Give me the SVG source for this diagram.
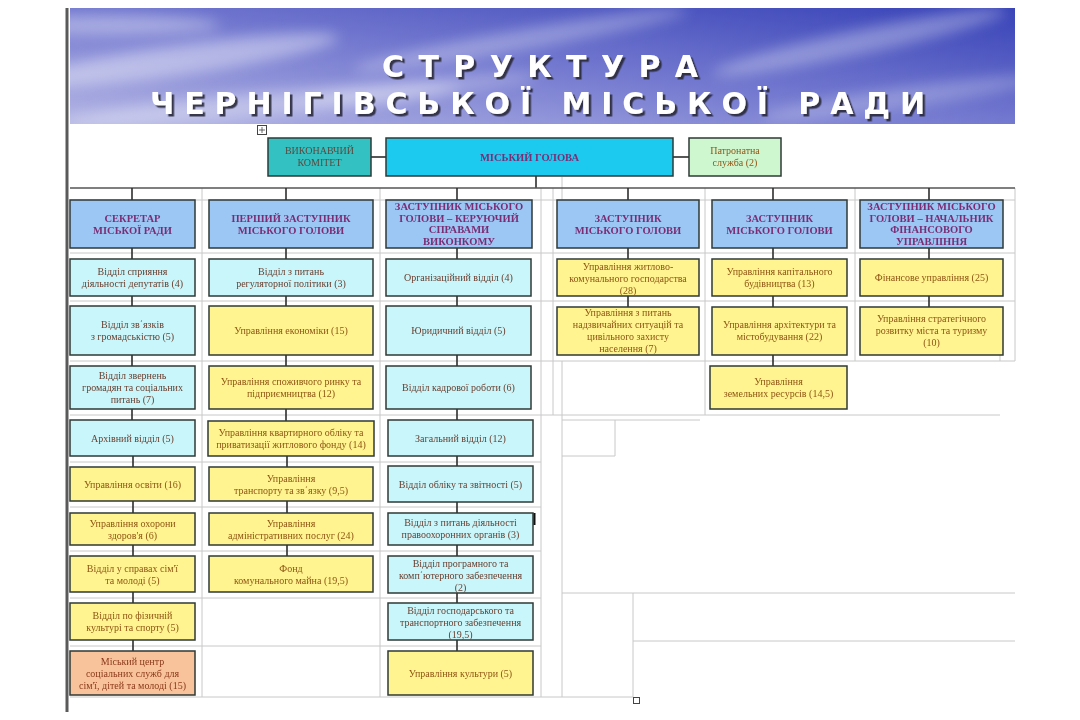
<svg xmlns="http://www.w3.org/2000/svg" width="1080" height="720" viewBox="0 0 1080 720">
<defs>
<linearGradient id="sky" x1="0" y1="1" x2="1" y2="0">
<stop offset="0" stop-color="#b3b5e4"/>
<stop offset="0.45" stop-color="#7a7fd2"/>
<stop offset="1" stop-color="#3742b7"/>
</linearGradient>
<clipPath id="bannerClip"><rect x="70" y="8" width="945" height="116"/></clipPath>
<filter id="blur" x="-20%" y="-50%" width="140%" height="200%"><feGaussianBlur stdDeviation="7"/></filter>
<filter id="shadow" x="-5%" y="-30%" width="110%" height="160%"><feDropShadow dx="2.5" dy="2.5" stdDeviation="0.6" flood-color="#2a2a3a" flood-opacity="0.9"/></filter>
<style>
.grid{stroke:#c8c8c8;stroke-width:1;fill:none}
.conn{stroke:#2e2e2e;stroke-width:1.6;fill:none}
.box{stroke:#2f3a36;stroke-width:1.5}
.head{fill:#9cc6f4}
.cy{fill:#c9f6fa}
.ye{fill:#fff48f}
.or{fill:#f8c29a}
text{font-family:"Liberation Serif","Times New Roman",serif;font-size:10px;text-anchor:middle}
.th{font-weight:bold;fill:#7b2d74;font-size:10.5px}
.tc{fill:#6a4032}
.ty{fill:#8f5514}
.to{fill:#8a3a1a}
.title{font-family:"DejaVu Sans","Liberation Sans",sans-serif;font-weight:bold;font-size:30px;fill:#ffffff;text-anchor:start;filter:url(#shadow)}
</style>
</defs>
<rect width="1080" height="720" fill="#ffffff"/>

<!-- banner -->
<g id="banner">
<rect x="70" y="8" width="945" height="116" fill="url(#sky)"/>
<g clip-path="url(#bannerClip)" filter="url(#blur)" fill="#ffffff">
<ellipse cx="180" cy="60" rx="160" ry="15" opacity="0.4" transform="rotate(-8 180 60)"/>
<ellipse cx="260" cy="105" rx="200" ry="12" opacity="0.35" transform="rotate(-5 260 105)"/>
<ellipse cx="520" cy="40" rx="170" ry="10" opacity="0.3" transform="rotate(-10 520 40)"/>
<ellipse cx="860" cy="42" rx="150" ry="12" opacity="0.32" transform="rotate(-12 860 42)"/>
<ellipse cx="900" cy="98" rx="140" ry="10" opacity="0.25" transform="rotate(-8 900 98)"/>
<ellipse cx="120" cy="25" rx="100" ry="10" opacity="0.35"/>
<ellipse cx="420" cy="88" rx="120" ry="8" opacity="0.25" transform="rotate(-6 420 88)"/>
</g>
<text class="title" x="382" y="77" textLength="316" lengthAdjust="spacing">СТРУКТУРА</text>
<text class="title" x="150" y="114" textLength="775" lengthAdjust="spacing">ЧЕРНІГІВСЬКОЇ МІСЬКОЇ РАДИ</text>
</g>
<line x1="67" y1="8" x2="67" y2="712" stroke="#5a5a5a" stroke-width="3"/>

<!-- table grid lines -->
<g id="grid" class="grid">
<line x1="70" y1="200" x2="1015" y2="200"/>
<line x1="562" y1="177" x2="562" y2="200"/>
<line x1="70" y1="253" x2="1015" y2="253"/>
<line x1="70" y1="301" x2="1015" y2="301"/>
<line x1="70" y1="361" x2="1015" y2="361"/>
<line x1="70" y1="415" x2="1000" y2="415"/>
<line x1="70" y1="462" x2="541" y2="462"/>
<line x1="70" y1="507" x2="541" y2="507"/>
<line x1="70" y1="551" x2="541" y2="551"/>
<line x1="70" y1="598" x2="541" y2="598"/>
<line x1="70" y1="646" x2="541" y2="646"/>
<line x1="70" y1="697" x2="633" y2="697"/>
<line x1="202" y1="188" x2="202" y2="697"/>
<line x1="380" y1="188" x2="380" y2="697"/>
<line x1="541" y1="188" x2="541" y2="697"/>
<line x1="553" y1="188" x2="553" y2="415"/>
<line x1="705" y1="188" x2="705" y2="415"/>
<line x1="855" y1="188" x2="855" y2="361"/>
<line x1="1015" y1="188" x2="1015" y2="361"/>
<line x1="562" y1="361" x2="562" y2="697"/>
<line x1="615" y1="420" x2="615" y2="456"/>
<line x1="562" y1="420" x2="700" y2="420"/>
<line x1="562" y1="456" x2="615" y2="456"/>
<line x1="562" y1="593" x2="1015" y2="593"/>
<line x1="633" y1="593" x2="633" y2="697"/>
<line x1="633" y1="641" x2="1015" y2="641"/>
<line x1="1000" y1="355" x2="1000" y2="361"/>
</g>

<!-- connectors -->
<g id="connectors" class="conn">
<line x1="371" y1="157" x2="386" y2="157"/>
<line x1="673" y1="157" x2="689" y2="157"/>
<line x1="536" y1="176" x2="536" y2="188"/>
<line x1="70" y1="188" x2="1015" y2="188" stroke="#555555"/>
<line x1="132" y1="188" x2="132" y2="200"/>
<line x1="286" y1="188" x2="286" y2="200"/>
<line x1="457" y1="188" x2="457" y2="200"/>
<line x1="628" y1="188" x2="628" y2="200"/>
<line x1="773" y1="188" x2="773" y2="200"/>
<line x1="929" y1="188" x2="929" y2="200"/>
<!-- col 1 -->
<path d="M132 248V259M132 296V306M132 355V366M132 409V420M133 456V467M133 501V513M133 545V556M133 592V603M133 640V651"/>
<!-- col 2 -->
<path d="M286 248V259M286 296V306M286 355V366M286 409V421M287 456V467M287 501V513M287 545V556"/>
<!-- col 3 -->
<path d="M457 248V259M457 296V306M457 355V366M457 409V420M457 456V466M457 502V513M457 545V556M457 593V603M457 640V651"/>
<!-- col 4-6 -->
<path d="M628 248V259M628 296V307M773 248V259M773 296V307M773 355V366M929 248V259M929 296V307"/>
</g>

<!-- top row -->
<g id="vykonkom"><rect class="box" x="268" y="138" width="103" height="38" fill="#33c1c1"/>
<text fill="#5a4a40" x="319.5" y="154">ВИКОНАВЧИЙ</text><text fill="#5a4a40" x="319.5" y="166">КОМІТЕТ</text></g>
<g id="mayor"><rect class="box" x="386" y="138" width="287" height="38" fill="#1ccaf0"/>
<text class="th" x="529.5" y="161">МІСЬКИЙ ГОЛОВА</text></g>
<g id="patronat"><rect class="box" x="689" y="138" width="92" height="38" fill="#cff7cf"/>
<text class="ty" x="735" y="154">Патронатна</text><text class="ty" x="735" y="166">служба (2)</text></g>

<!-- column headers -->
<g id="h1"><rect class="box head" x="70" y="200" width="125" height="48"/>
<text class="th" x="132.5" y="221.5">СЕКРЕТАР</text><text class="th" x="132.5" y="233.5">МІСЬКОЇ РАДИ</text></g>
<g id="h2"><rect class="box head" x="209" y="200" width="164" height="48"/>
<text class="th" x="291" y="221.5">ПЕРШИЙ ЗАСТУПНИК</text><text class="th" x="291" y="233.5">МІСЬКОГО ГОЛОВИ</text></g>
<g id="h3"><rect class="box head" x="386" y="200" width="146" height="48"/>
<text class="th" x="459" y="210">ЗАСТУПНИК МІСЬКОГО</text><text class="th" x="459" y="221.5">ГОЛОВИ – КЕРУЮЧИЙ</text><text class="th" x="459" y="233">СПРАВАМИ</text><text class="th" x="459" y="244.5">ВИКОНКОМУ</text></g>
<g id="h4"><rect class="box head" x="557" y="200" width="142" height="48"/>
<text class="th" x="628" y="221.5">ЗАСТУПНИК</text><text class="th" x="628" y="233.5">МІСЬКОГО ГОЛОВИ</text></g>
<g id="h5"><rect class="box head" x="712" y="200" width="135" height="48"/>
<text class="th" x="779.5" y="221.5">ЗАСТУПНИК</text><text class="th" x="779.5" y="233.5">МІСЬКОГО ГОЛОВИ</text></g>
<g id="h6"><rect class="box head" x="860" y="200" width="143" height="48"/>
<text class="th" x="931.5" y="210">ЗАСТУПНИК МІСЬКОГО</text><text class="th" x="931.5" y="221.5">ГОЛОВИ – НАЧАЛЬНИК</text><text class="th" x="931.5" y="233">ФІНАНСОВОГО</text><text class="th" x="931.5" y="244.5">УПРАВЛІННЯ</text></g>

<!-- column 1 -->
<g id="c1r1"><rect class="box cy" x="70" y="259" width="125" height="37"/>
<text class="tc" x="132.5" y="275">Відділ сприяння</text><text class="tc" x="132.5" y="287">діяльності депутатів (4)</text></g>
<g id="c1r2"><rect class="box cy" x="70" y="306" width="125" height="49"/>
<text class="tc" x="132.5" y="328">Відділ зв΄язків</text><text class="tc" x="132.5" y="340">з громадськістю (5)</text></g>
<g id="c1r3"><rect class="box cy" x="70" y="366" width="125" height="43"/>
<text class="tc" x="132.5" y="379">Відділ звернень</text><text class="tc" x="132.5" y="391">громадян та соціальних</text><text class="tc" x="132.5" y="403">питань (7)</text></g>
<g id="c1r4"><rect class="box cy" x="70" y="420" width="125" height="36"/>
<text class="tc" x="132.5" y="441.5">Архівний відділ (5)</text></g>
<g id="c1r5"><rect class="box ye" x="70" y="467" width="125" height="34"/>
<text class="ty" x="132.5" y="487.5">Управління освіти (16)</text></g>
<g id="c1r6"><rect class="box ye" x="70" y="513" width="125" height="32"/>
<text class="ty" x="132.5" y="526.5">Управління охорони</text><text class="ty" x="132.5" y="538.5">здоров'я (6)</text></g>
<g id="c1r7"><rect class="box ye" x="70" y="556" width="125" height="36"/>
<text class="ty" x="132.5" y="571.5">Відділ у справах сім'ї</text><text class="ty" x="132.5" y="583.5">та молоді (5)</text></g>
<g id="c1r8"><rect class="box ye" x="70" y="603" width="125" height="37"/>
<text class="ty" x="132.5" y="619">Відділ по фізичній</text><text class="ty" x="132.5" y="631">культурі  та спорту (5)</text></g>
<g id="c1r9"><rect class="box or" x="70" y="651" width="125" height="44"/>
<text class="to" x="132.5" y="665">Міський центр</text><text class="to" x="132.5" y="677">соціальних служб для</text><text class="to" x="132.5" y="689">сім'ї, дітей та молоді (15)</text></g>

<!-- column 2 -->
<g id="c2r1"><rect class="box cy" x="209" y="259" width="164" height="37"/>
<text class="tc" x="291" y="275">Відділ з питань</text><text class="tc" x="291" y="287">регуляторної політики (3)</text></g>
<g id="c2r2"><rect class="box ye" x="209" y="306" width="164" height="49"/>
<text class="ty" x="291" y="334">Управління економіки (15)</text></g>
<g id="c2r3"><rect class="box ye" x="209" y="366" width="164" height="43"/>
<text class="ty" x="291" y="385">Управління споживчого ринку та</text><text class="ty" x="291" y="397">підприємництва (12)</text></g>
<g id="c2r4"><rect class="box ye" x="208" y="421" width="166" height="35"/>
<text class="ty" x="291" y="436">Управління  квартирного обліку та</text><text class="ty" x="291" y="448">приватизації житлового фонду (14)</text></g>
<g id="c2r5"><rect class="box ye" x="209" y="467" width="164" height="34"/>
<text class="ty" x="291" y="481.5">Управління</text><text class="ty" x="291" y="493.5">транспорту та зв΄язку (9,5)</text></g>
<g id="c2r6"><rect class="box ye" x="209" y="513" width="164" height="32"/>
<text class="ty" x="291" y="526.5">Управління</text><text class="ty" x="291" y="538.5">адміністративних послуг (24)</text></g>
<g id="c2r7"><rect class="box ye" x="209" y="556" width="164" height="36"/>
<text class="ty" x="291" y="571.5">Фонд</text><text class="ty" x="291" y="583.5">комунального майна (19,5)</text></g>

<!-- column 3 -->
<g id="c3r1"><rect class="box cy" x="386" y="259" width="145" height="37"/>
<text class="tc" x="458.5" y="281">Організаційний відділ (4)</text></g>
<g id="c3r2"><rect class="box cy" x="386" y="306" width="145" height="49"/>
<text class="tc" x="458.5" y="334">Юридичний відділ (5)</text></g>
<g id="c3r3"><rect class="box cy" x="386" y="366" width="145" height="43"/>
<text class="tc" x="458.5" y="391">Відділ кадрової роботи (6)</text></g>
<g id="c3r4"><rect class="box cy" x="388" y="420" width="145" height="36"/>
<text class="tc" x="460.5" y="441.5">Загальний відділ (12)</text></g>
<g id="c3r5"><rect class="box cy" x="388" y="466" width="145" height="36"/>
<text class="tc" x="460.5" y="487.5">Відділ обліку та звітності (5)</text></g>
<g id="c3r6"><rect class="box cy" x="388" y="513" width="145" height="32"/>
<text class="tc" x="460.5" y="525.5">Відділ з питань діяльності</text><text class="tc" x="460.5" y="537.5">правоохоронних органів (3)</text>
<line x1="534.5" y1="513" x2="534.5" y2="525" stroke="#111111" stroke-width="2"/></g>
<g id="c3r7"><rect class="box cy" x="388" y="556" width="145" height="37"/>
<text class="tc" x="460.5" y="567">Відділ  програмного та</text><text class="tc" x="460.5" y="579">комп΄ютерного забезпечення</text><text class="tc" x="460.5" y="591">(2)</text></g>
<g id="c3r8"><rect class="box cy" x="388" y="603" width="145" height="37"/>
<text class="tc" x="460.5" y="614">Відділ господарського та</text><text class="tc" x="460.5" y="626">транспортного забезпечення</text><text class="tc" x="460.5" y="638">(19,5)</text></g>
<g id="c3r9"><rect class="box ye" x="388" y="651" width="145" height="44"/>
<text class="ty" x="460.5" y="676.5">Управління культури (5)</text></g>

<!-- column 4 -->
<g id="c4r1"><rect class="box ye" x="557" y="259" width="142" height="37"/>
<text class="ty" x="628" y="270">Управління  житлово-</text><text class="ty" x="628" y="282">комунального господарства</text><text class="ty" x="628" y="294">(28)</text></g>
<g id="c4r2"><rect class="box ye" x="557" y="307" width="142" height="48"/>
<text class="ty" x="628" y="316">Управління з питань</text><text class="ty" x="628" y="328">надзвичайних ситуацій та</text><text class="ty" x="628" y="340">цивільного захисту</text><text class="ty" x="628" y="352">населення (7)</text></g>

<!-- column 5 -->
<g id="c5r1"><rect class="box ye" x="712" y="259" width="135" height="37"/>
<text class="ty" x="779.5" y="275">Управління капітального</text><text class="ty" x="779.5" y="287">будівництва (13)</text></g>
<g id="c5r2"><rect class="box ye" x="712" y="307" width="135" height="48"/>
<text class="ty" x="779.5" y="328">Управління архітектури та</text><text class="ty" x="779.5" y="340">містобудування (22)</text></g>
<g id="c5r3"><rect class="box ye" x="710" y="366" width="137" height="43"/>
<text class="ty" x="778.5" y="385">Управління</text><text class="ty" x="778.5" y="397">земельних ресурсів (14,5)</text></g>

<!-- column 6 -->
<g id="c6r1"><rect class="box ye" x="860" y="259" width="143" height="37"/>
<text class="ty" x="931.5" y="281">Фінансове управління (25)</text></g>
<g id="c6r2"><rect class="box ye" x="860" y="307" width="143" height="48"/>
<text class="ty" x="931.5" y="322">Управління стратегічного</text><text class="ty" x="931.5" y="334">розвитку міста та туризму</text><text class="ty" x="931.5" y="346">(10)</text></g>

<!-- table handles -->
<g id="handles" fill="#ffffff" stroke="#444444" stroke-width="1">
<rect x="257.5" y="125.5" width="9" height="9"/>
<path d="M262 127V133M259 130H265" stroke-width="0.8"/>
<rect x="633.5" y="697.5" width="6" height="6"/>
</g>
</svg>
